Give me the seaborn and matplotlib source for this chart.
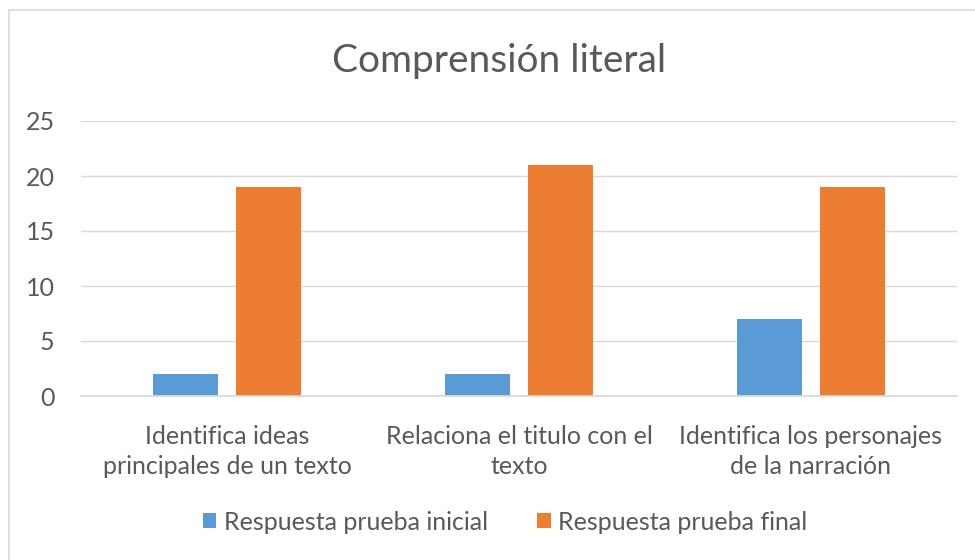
import pandas as pd
import matplotlib.pyplot as plt
import seaborn as sns
from matplotlib.patches import Rectangle

# datos
categorias = ["Identifica ideas\nprincipales de un texto",
              "Relaciona el titulo con el\ntexto",
              "Identifica los personajes\nde la narración"]
series = ["Respuesta prueba inicial", "Respuesta prueba final"]
inicial = [2, 2, 7]
final = [19, 21, 19]
yticks = [0, 5, 10, 15, 20, 25]

colores = ["#5B9BD5", "#ED7D31"]
gris = "#595959"

df = pd.DataFrame({
    "categoria": categorias * 2,
    "serie": [series[0]] * 3 + [series[1]] * 3,
    "valor": inicial + final,
})

sns.set_theme(style="white")
plt.rcParams["font.family"] = ["Lato", "DejaVu Sans"]

fig = plt.figure(figsize=(9.75, 5.6), dpi=100)
ax = fig.add_axes([81 / 975, 1 - 396 / 560, (957 - 81) / 975, (396 - 121) / 560])

sns.barplot(data=df, x="categoria", y="valor", hue="serie", palette=colores,
            saturation=1, width=0.569, gap=0.217, linewidth=0, ax=ax, legend=True)

ax.set_ylim(0, 25)
ax.set_yticks(yticks)
ax.yaxis.grid(True, color="#D9D9D9", linewidth=1)
ax.set_axisbelow(True)
for s in ["top", "right", "left"]:
    ax.spines[s].set_visible(False)
ax.spines["bottom"].set_color("#D9D9D9")
ax.set_xlabel("")
ax.set_ylabel("")
ax.tick_params(axis="y", labelsize=18, colors=gris, pad=19, length=0)
ax.tick_params(axis="x", labelsize=18, colors=gris, pad=21, length=0)
for t in ax.get_xticklabels():
    t.set_linespacing(1.35)

ax.legend(loc="center", bbox_to_anchor=(505 / 975, 1 - 522 / 560), bbox_transform=fig.transFigure,
          ncol=2, frameon=False, fontsize=18, labelcolor=gris,
          handlelength=0.55, handleheight=0.55, handletextpad=0.3, columnspacing=1.95)

fig.text(499 / 975, 1 - 61 / 560, "Comprensión literal", ha="center", va="center",
         fontsize=28, color=gris)

# borde del area del grafico
fig.patches.append(Rectangle((9 / 975, -0.05), 1.1, 1 - 10 / 560 + 0.05,
                             transform=fig.transFigure, fill=False,
                             edgecolor="#D9D9D9", linewidth=1.2))

fig.savefig("out.png", dpi=100)
